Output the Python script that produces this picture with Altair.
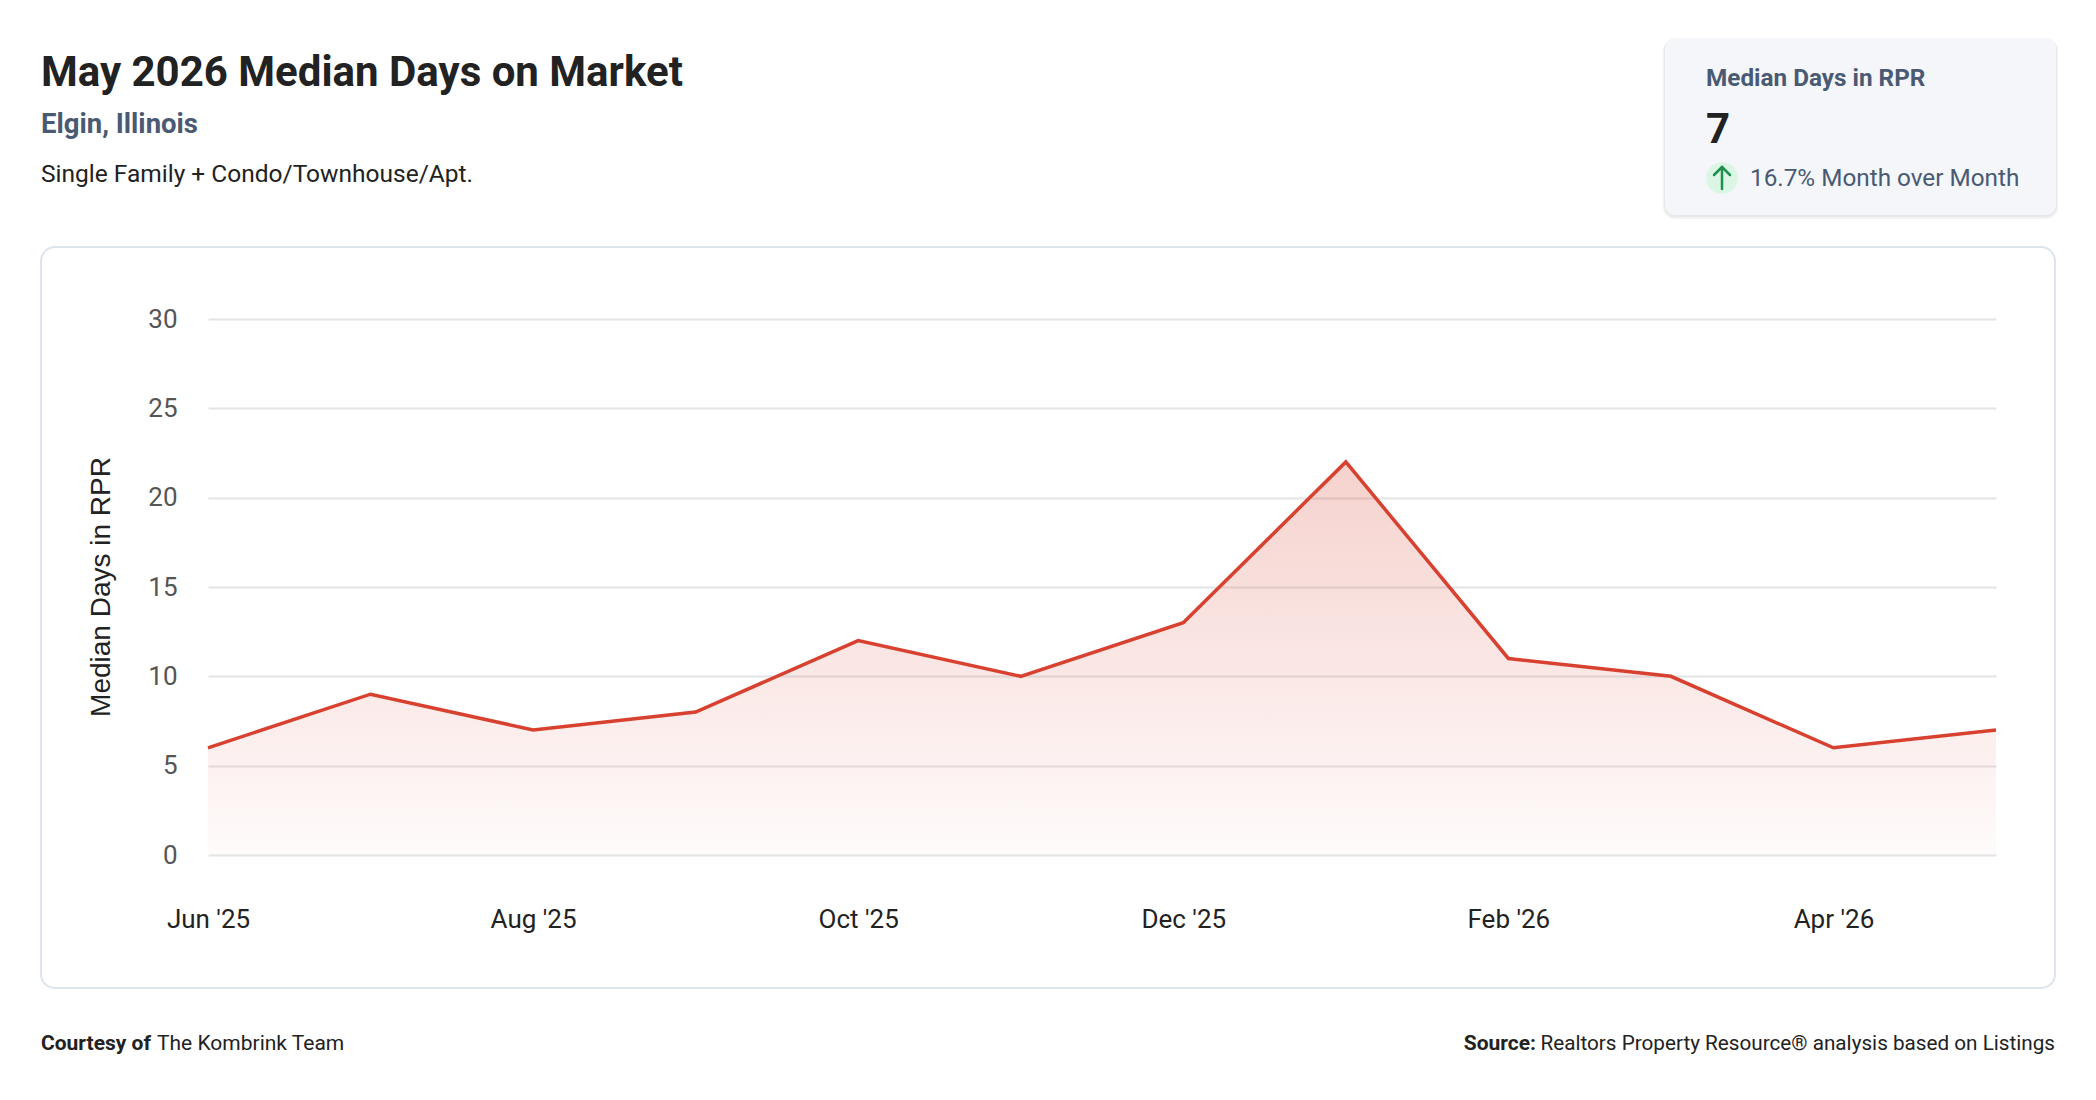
"""Median Days on Market, Elgin IL: area + line chart with header card and footer."""

import altair as alt
import pandas as pd

MONTHS = ["Jun '25", "Jul '25", "Aug '25", "Sep '25", "Oct '25", "Nov '25",
          "Dec '25", "Jan '26", "Feb '26", "Mar '26", "Apr '26", "May '26"]
MEDIAN_DAYS = [6, 9, 7, 8, 12, 10, 13, 22, 11, 10, 6, 7]
LABELED_MONTHS = MONTHS[::2]
Y_TICKS = [0, 5, 10, 15, 20, 25, 30]

TITLE = "May 2026 Median Days on Market"
PLACE = "Elgin, Illinois"
SEGMENT = "Single Family + Condo/Townhouse/Apt."
CARD_TITLE = "Median Days in RPR"
CARD_VALUE = "7"
CARD_CHANGE = "16.7% Month over Month"
Y_TITLE = "Median Days in RPR"

LINE = "#d8412f"
SLATE = "#4a5a73"
INK = "#222222"
FONT = "Roboto"

# plot area is W x H; everything else is placed relative to its origin
W, H = 1788, 536

one = pd.DataFrame({"k": [0]})


def box(x, x2, y, y2, **style):
    return alt.Chart(one).mark_rect(**style).encode(
        x=alt.value(x), x2=alt.value(x2), y=alt.value(y), y2=alt.value(y2)
    )


def label(text, x, y, size, weight="normal", color=INK, align="left", font=FONT, **kw):
    return alt.Chart(one).mark_text(
        text=text, fontSize=size, fontWeight=weight, color=color, align=align,
        baseline="alphabetic", font=font, **kw
    ).encode(x=alt.value(x), y=alt.value(y))


def stroke(x, x2, y, y2):
    return alt.Chart(one).mark_rule(color="#1f8f4e", strokeWidth=2.5, strokeCap="round").encode(
        x=alt.value(x), x2=alt.value(x2), y=alt.value(y), y2=alt.value(y2)
    )


data = pd.DataFrame({"month": MONTHS, "days": MEDIAN_DAYS})

x = alt.X(
    "month:O", sort=MONTHS, title=None,
    scale=alt.Scale(padding=0),
    axis=alt.Axis(values=LABELED_MONTHS, labelAngle=0, domain=False, ticks=False,
                  grid=False, labelFont=FONT, labelFontSize=26, labelColor=INK,
                  labelPadding=64, labelBaseline="middle", labelOverlap=False),
)
y = alt.Y(
    "days:Q", title=None,
    scale=alt.Scale(domain=[0, 30], nice=False),
    axis=alt.Axis(values=Y_TICKS, domain=False, ticks=False, grid=True,
                  gridColor="#e3e4e6", gridWidth=2, labelFont=FONT, labelFontSize=26,
                  labelColor="#555555", labelPadding=31),
)

fill = alt.Gradient(
    gradient="linear",
    stops=[alt.GradientStop(color="rgba(216,65,47,0.24)", offset=0),
           alt.GradientStop(color="rgba(216,65,47,0.02)", offset=1)],
    x1=1, x2=1, y1=0, y2=1,
)
area = alt.Chart(data).mark_area(color=fill).encode(x=x, y=y)
line = alt.Chart(data).mark_line(color=LINE, strokeWidth=3.5, strokeJoin="miter").encode(x=x, y=y)

# transparent fill so the axes and grid drawn underneath stay visible
frame = box(-167, 1847, -72, 669, fill="transparent", stroke="#dde4ec", strokeWidth=2,
            cornerRadius=14)

card = (
    box(1455, 1850, -280, -100, fill="#000000", opacity=0.05, cornerRadius=12)
    + box(1456, 1849, -281, -102, fill="#000000", opacity=0.04, cornerRadius=11)
    + box(1457, 1848, -281, -104, fill="#f4f6f9", cornerRadius=10)
    + label(CARD_TITLE, 1498, -233, 24.3, weight="bold", color=SLATE)
    + label(CARD_VALUE, 1498, -176, 42, weight="bold")
    + alt.Chart(one).mark_point(filled=True, size=1000, color="#dbf6e5", opacity=1).encode(
        x=alt.value(1514), y=alt.value(-141))
    + stroke(1514, 1514, -152, -130)
    + stroke(1514, 1506, -152, -144)
    + stroke(1514, 1522, -152, -144)
    + label(CARD_CHANGE, 1542, -133, 24.3, color=SLATE)
)

header = (
    label(TITLE, -167, -233, 42, weight="bold")
    + label(PLACE, -167, -186, 27.5, weight="bold", color=SLATE)
    + label(SEGMENT, -167, -137, 24.5)
)

footer = (
    label("Courtesy of", -167, 731, 21, weight="bold")
    + label("The Kombrink Team", -51, 731, 21)
    + label("Source:", 1328, 731, 21, weight="bold", align="right")
    + label("Realtors Property Resource® analysis based on Listings", 1847, 731, 20.7,
            align="right")
)

y_title = label(Y_TITLE, -98, H / 2, 28, angle=270, align="center", font="Liberation Sans")

chart = (
    alt.layer(frame, area, line, y_title, header, card, footer)
    .properties(
        width=W, height=H,
        autosize=alt.AutoSizeParams(type="none"),
        padding={"left": 200, "top": 311, "right": 92, "bottom": 237},
        background="white",
    )
    .configure_view(stroke=None)
)

chart.save("out.html", embed_options={"renderer": "svg", "actions": False})
